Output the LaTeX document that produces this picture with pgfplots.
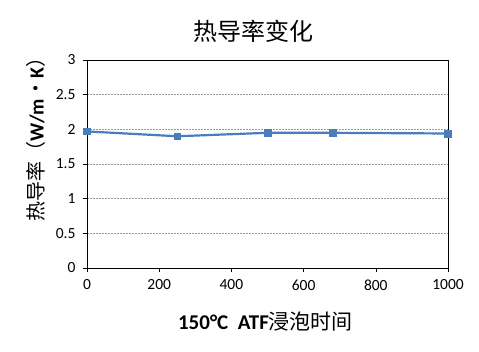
\documentclass[border=0pt]{standalone}
\usepackage{fontspec}
\setmainfont{Carlito}
\newfontfamily\cjk{Noto Sans CJK SC}
\usepackage{pgfplots}
\pgfplotsset{compat=1.18}
\definecolor{xlblue}{RGB}{74,126,187}
\begin{document}
\begin{tikzpicture}[x=1pt,y=1pt]
\path[use as bounding box] (-87,-83) rectangle (392,268);
\begin{axis}[
  at={(0,0)}, anchor=south west,
  scale only axis, width=361pt, height=208pt,
  xmin=0, xmax=1000, ymin=0, ymax=3,
  xtick={0,200,...,1000}, ytick={0,0.5,...,3},
  yticklabels={0,0.5,1,1.5,2,2.5,3},
  xticklabels={0,200,400,600,800,1000},
  xtick pos=left, ytick pos=left,
  tick align=outside, major tick length=4pt,
  tick style={black, line width=0.6pt},
  axis line style={black, line width=0.8pt},
  ymajorgrids, major grid style={gray!80, dash pattern=on 2pt off 1pt, line width=0.6pt},
  /pgf/number format/assume math mode=true,
  tick label style={font=\fontsize{15.5}{17}\selectfont},
  xticklabel style={yshift=-4pt},
  yticklabel style={xshift=-4pt},
  title={\cjk\fontsize{24}{26}\selectfont 热导率变化},
  title style={at={(0.5,1)}, anchor=center, yshift=23pt, xshift=-14pt},
  xlabel={\fontsize{21}{23}\selectfont\textbf{150°C\ \ ATF}\cjk 浸泡时间},
  xlabel style={at={(0.5,0)}, anchor=center, yshift=-54pt, xshift=-2pt},
  ylabel={\fontsize{20}{22}\selectfont\cjk 热导率（\textbf{\rmfamily W/m}·\textbf{\rmfamily K}）},
  ylabel style={at={(-0.141,0.64)}, anchor=center},
  clip=false,
]
\addplot[xlblue, line width=2.2pt, mark=square*, mark size=3.3pt, mark options={solid, fill=xlblue, draw=xlblue, line width=0.5pt}]
coordinates {(0,1.97) (250,1.90) (500,1.95) (680,1.95) (1000,1.94)};
\end{axis}
\end{tikzpicture}
\end{document}
